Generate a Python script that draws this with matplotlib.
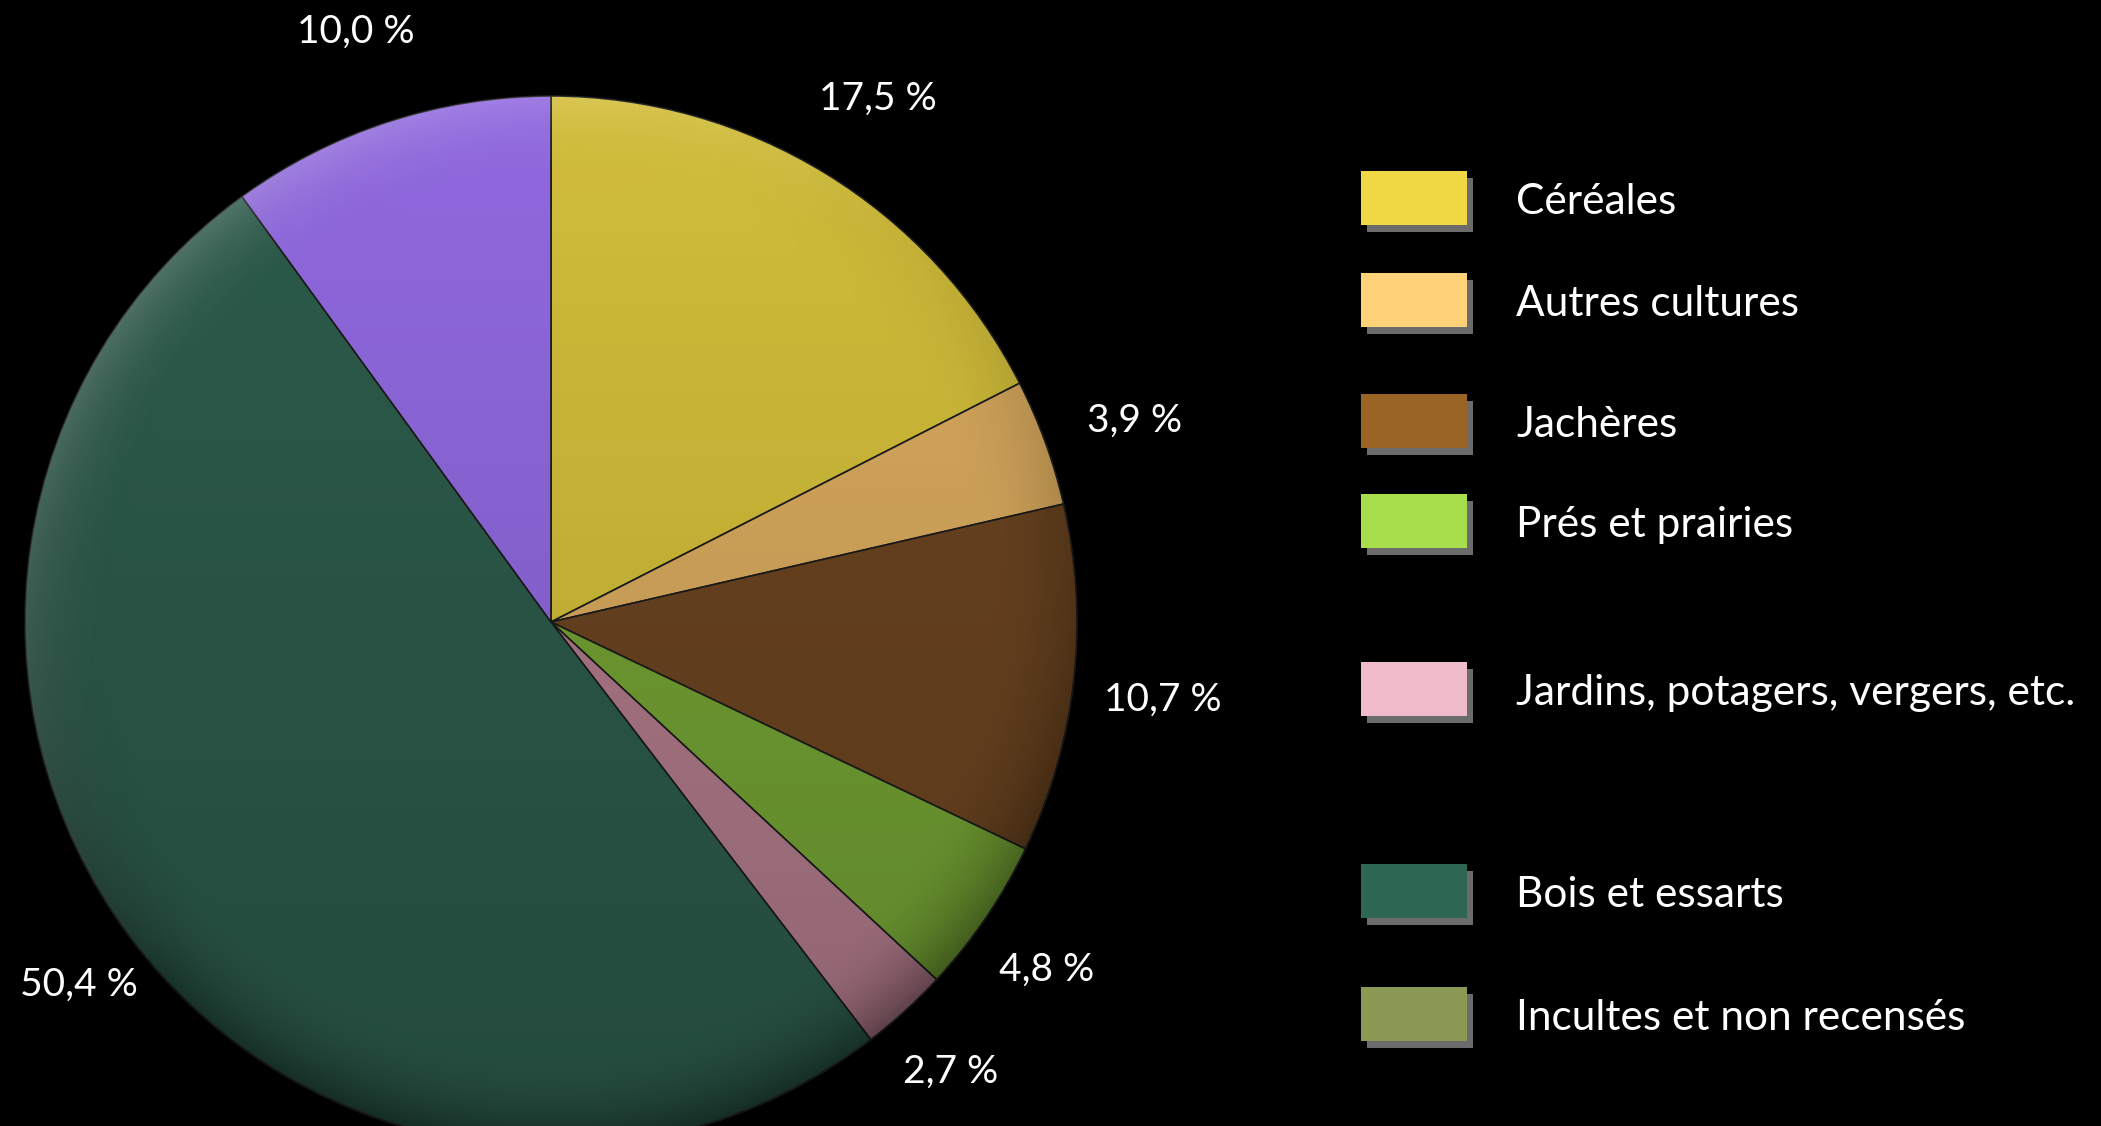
import numpy as np
import matplotlib
matplotlib.use("Agg")
import matplotlib.pyplot as plt
import matplotlib.patheffects as pe
from matplotlib.patches import Rectangle, Circle

plt.rcParams['font.family'] = ['Lato', 'DejaVu Sans']

# slices, clockwise from 12 o'clock
slice_names = ['Céréales', 'Autres cultures', 'Jachères', 'Prés et prairies',
               'Jardins, potagers, vergers, etc.', 'Bois et essarts', '(autre)']
slice_values = [17.5, 3.9, 10.7, 4.8, 2.7, 50.4, 10.0]
slice_colors = ['#d2be3a', '#d9aa5e', '#6b4420', '#74a234', '#b07a8a', '#2c5b4b', '#9069df']
label_dist = [1.19, 1.18, 1.17, 1.14, 1.13, 1.12, 1.20]

# legend entries
legend_names = ['Céréales', 'Autres cultures', 'Jachères', 'Prés et prairies',
                'Jardins, potagers, vergers, etc.', 'Bois et essarts',
                'Incultes et non recensés']
legend_colors = ['#efd843', '#ffd27a', '#9a6524', '#a8de4c', '#f0bccc', '#2e6654', '#8a9a54']
legend_y = [198, 300, 421, 521, 689, 891, 1014]   # row centres in pixels

W, H = 2101, 1126
fig = plt.figure(figsize=(W / 100, H / 100), dpi=100, facecolor='black')

# pie axes: centre (551, 622) px, radius 526 px
cx, cy, r = 551, 622, 526
ax = fig.add_axes([(cx - r) / W, (H - cy - r) / H, 2 * r / W, 2 * r / H])
ax.set_facecolor('black')
ax.axis('off')

wedges, _ = ax.pie(
    slice_values, colors=slice_colors, startangle=90, counterclock=False,
    radius=1, wedgeprops=dict(edgecolor='#1c1c1c', linewidth=1.2))
ax.set_xlim(-1, 1)
ax.set_ylim(-1, 1)
ax.set_aspect('equal')

total = sum(slice_values)
for w, v, d in zip(wedges, slice_values, label_dist):
    w.set_clip_on(False)
    mid = np.deg2rad((w.theta1 + w.theta2) / 2)
    ax.text(d * np.cos(mid), d * np.sin(mid) - 0.02, f"{100 * v / total:.1f} %".replace('.', ','),
            color='white', fontsize=28, ha='center', va='center', clip_on=False)

# soft shading: darker towards the bottom and the lower rim, lighter upper-left rim
n = 500
yy, xx = np.mgrid[1:-1:n * 1j, -1:1:n * 1j]
rr = np.sqrt(xx ** 2 + yy ** 2)
rim = np.clip((rr - 0.82) / 0.18, 0, 1) ** 2
low = 0.5 - yy / 2
dark = np.zeros((n, n, 4))
dark[..., 3] = np.clip(0.18 * low + 0.35 * rim * low, 0, 1)
light = np.ones((n, n, 4))
upleft = np.clip((-xx + yy) / 1.4, 0, 1)
light[..., 3] = np.clip(0.18 * rim * upleft, 0, 1)
for layer in (dark, light):
    img = ax.imshow(layer, extent=[-1, 1, -1, 1], zorder=3, interpolation='bilinear')
    img.set_clip_path(Circle((0, 0), 1, transform=ax.transData))

# legend drawn on an overlay in pixel coordinates
lax = fig.add_axes([0, 0, 1, 1])
lax.set_xlim(0, W)
lax.set_ylim(H, 0)
lax.axis('off')
lax.patch.set_alpha(0)

for name, col, y in zip(legend_names, legend_colors, legend_y):
    rect = Rectangle((1361, y - 27), 106, 54, facecolor=col, edgecolor='none')
    rect.set_path_effects([pe.SimplePatchShadow(offset=(4, -5), shadow_rgbFace='#9a9a9a', alpha=0.7),
                           pe.Normal()])
    lax.add_patch(rect)
    lax.text(1516, y + 4, name, color='white', fontsize=30.5, va='center', ha='left')

fig.savefig('out.png', dpi=100, facecolor='black')
